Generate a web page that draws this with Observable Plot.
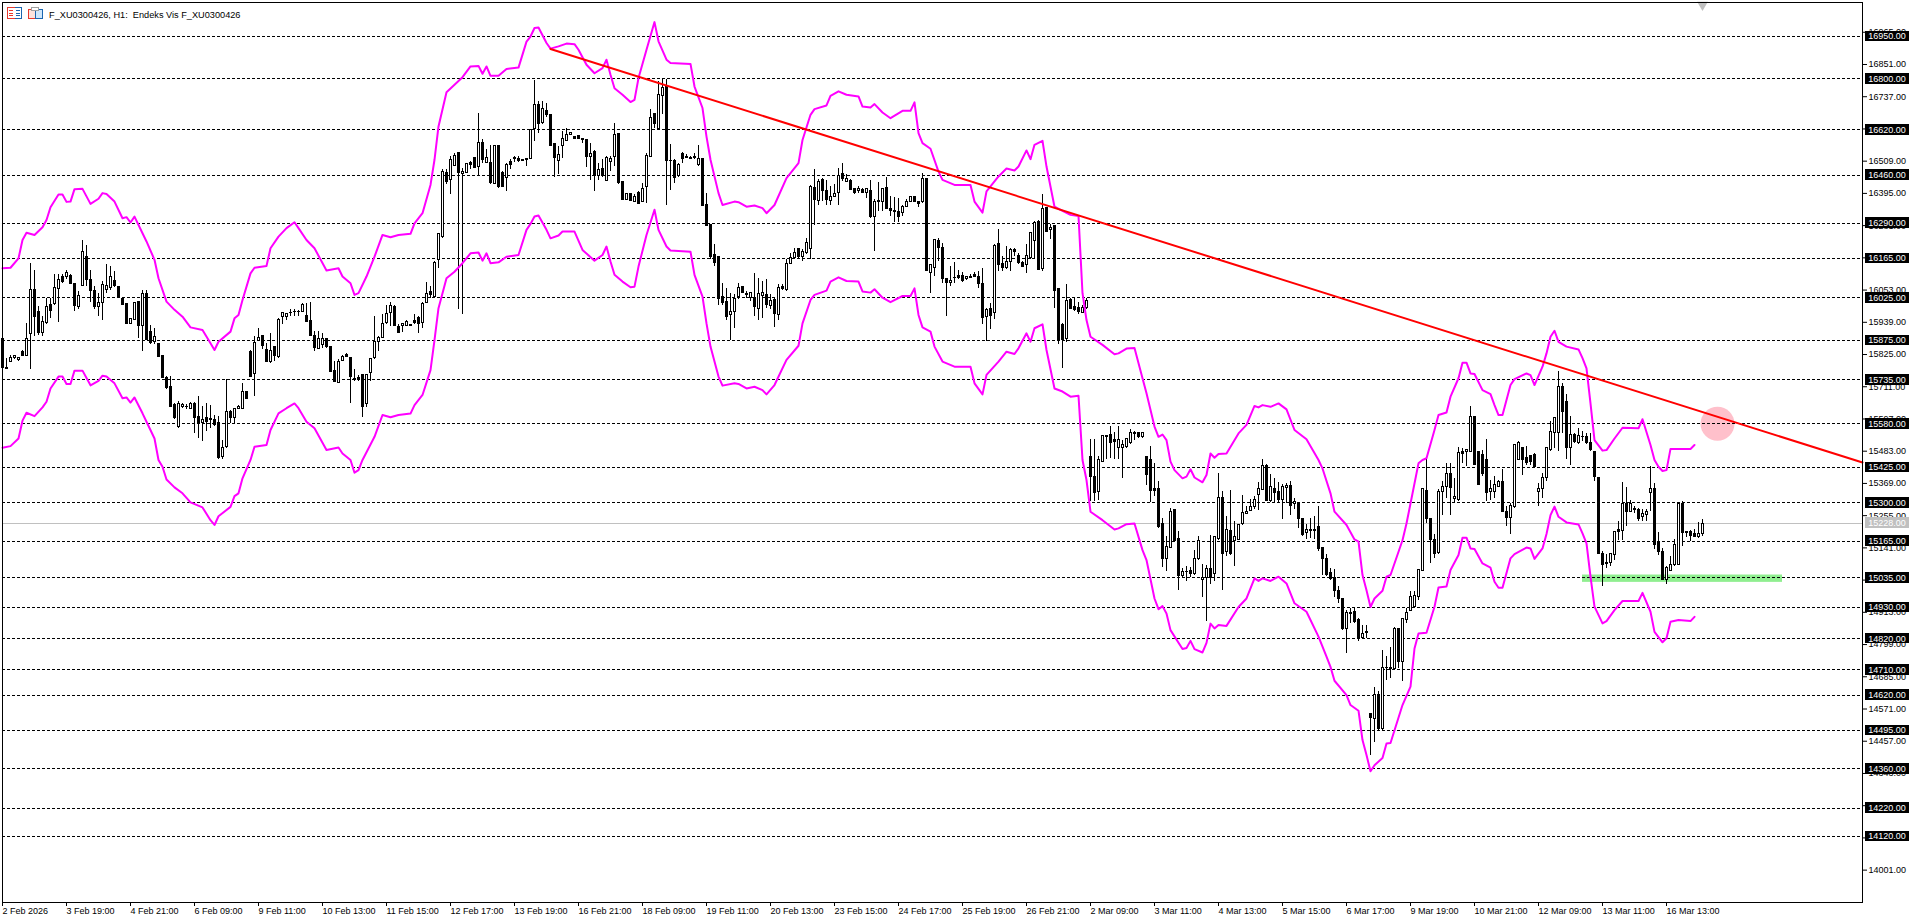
<!DOCTYPE html>
<html><head><meta charset="utf-8">
<script src="https://cdn.jsdelivr.net/npm/d3@7"></script>
<script src="https://cdn.jsdelivr.net/npm/@observablehq/plot@0.6"></script>
<style>
html,body{margin:0;padding:0;background:#fff;overflow:hidden}
#chart{position:absolute;left:0;top:0}
#icons{position:absolute;left:7px;top:7px}
svg text{font-family:"Liberation Sans",sans-serif}
</style></head><body>
<div id="chart"></div>
<svg id="icons" width="37" height="13" viewBox="0 0 37 13" shape-rendering="crispEdges">
<path d="M7.5 .5H.5v11h7" fill="#fff" stroke="#e8392c"/><path d="M7.5 .5h7v11h-7" fill="#fff" stroke="#1a66b0"/>
<path d="M2 3.5h4M2 6h4M2 8.5h4" stroke="#e8392c"/><path d="M9 3.5h4M9 6h4M9 8.5h4" stroke="#1a66b0"/>
<path d="M21.5 2.5h7v9h-7z" fill="#fde2dc" stroke="#e8392c"/>
<path d="M28.5 2.5h7v9h-7z" fill="#cfe6fa" stroke="#1a66b0"/>
<path d="M24.5 .5h7v3h-7z" fill="#fff" stroke="#a0a0a0"/>
</svg>
<script>
const title = "F_XU0300426, H1:\u00a0\u00a0Endeks Vis F_XU0300426";
const dateLabels = ["2 Feb 2026","3 Feb 19:00","4 Feb 21:00","6 Feb 09:00","9 Feb 11:00","10 Feb 13:00","11 Feb 15:00","12 Feb 17:00","13 Feb 19:00","16 Feb 21:00","18 Feb 09:00","19 Feb 11:00","20 Feb 13:00","23 Feb 15:00","24 Feb 17:00","25 Feb 19:00","26 Feb 21:00","2 Mar 09:00","3 Mar 11:00","4 Mar 13:00","5 Mar 15:00","6 Mar 17:00","9 Mar 19:00","10 Mar 21:00","12 Mar 09:00","13 Mar 11:00","16 Mar 13:00"];
const dateTickBars = [0,16,32,48,64,80,96,112,128,144,160,176,192,208,224,240,256,272,288,304,320,336,352,368,384,400,416];
const priceTicks = [16965,16851,16737,16623,16509,16395,16281,16167,16053,15939,15825,15711,15597,15483,15369,15255,15141,15027,14913,14799,14685,14571,14457,14343,14229,14115,14001];
const levels = [16950,16800,16620,16460,16290,16165,16025,15875,15735,15580,15425,15300,15165,15035,14930,14820,14710,14620,14495,14360,14220,14120];
const currentPrice = [15228];

const direction =
"bwwwwbwwbb"+"wwbwwbwbbw"+"wbbbwwwwbb"+"bbwwbwbbwb"+"bbbbwwwwbb"+"wbwbbwwbww"+"wbbwwbbwbw"+"wwbbwwbbbw"+"wbbbwwbbww"+"bwwwwwwwbb"+
"wwbbbwwbww"+"wbwwbwwbbw"+"bwbwbbwbwb"+"bbwwbwbbbw"+"wwwbbbbwbw"+"bwwwbbwbwb"+"wwwbwwbwbw"+"bbbbwbbbbb"+"bbwwwbbwbw"+"wbwbwbwwwb"+
"wwwbwbbwww"+"bwbbwbwbww"+"wbbbbwwwbb"+"wbwwbbbwbb"+"bwwbbbwbwb"+"bwwbbbwwwb"+"wbwbbbwbbb"+"wwbbwwbbbw"+"wwwwbwbbbb"+"bwwbbwbbww"+
"wwbwwbwbww"+"wwwwwwbwbb"+"wwbwbbwbbb"+"bbbbbbwbbb"+"wbbwbwwwwb"+"wwwwwwbbbw"+"wwbwwbwwbb"+"bbwwwbbwww"+"bbbbwwwwww"+"bbwbwbbbbb"+
"bbwwbwbwbb"+"wwwbbbwwww"+"bbbbww";

const bodyTop = [
15879,15776,15812,15820,15814,15835,15879,16053,16053,15977,
15941,15992,16000,16059,16089,16098,16112,16103,16073,16032,
16187,16171,16089,16050,16009,16071,16068,16101,16086,16063,
16020,16003,15950,16006,16010,16038,16038,15906,15888,15861,
15820,15741,15709,15646,15649,15645,15640,15649,15650,15605,
15593,15599,15598,15593,15581,15493,15623,15623,15631,15638,
15691,15691,15835,15867,15882,15891,15841,15837,15850,15947,
15971,15968,15973,15977,15977,16000,15961,15944,15892,15879,
15879,15879,15850,15768,15800,15817,15823,15812,15740,15742,
15752,15752,15808,15868,15882,15933,15968,15997,15994,15924,
15932,15941,15928,15945,15953,16004,16038,16045,16150,16250,
16470,16466,16514,16528,16537,16472,16499,16502,16520,16573,
16573,16520,16502,16563,16563,16466,16496,16505,16521,16516,
16514,16515,16620,16708,16708,16693,16685,16672,16570,16531,
16587,16602,16608,16594,16599,16586,16584,16534,16543,16478,
16481,16520,16517,16602,16606,16436,16392,16392,16384,16398,
16410,16528,16661,16676,16744,16767,16771,16511,16511,16494,
16535,16524,16521,16524,16516,16516,16354,16284,16177,16169,
16027,16012,15974,16022,16059,16063,16040,16042,16024,16039,
16042,16036,16014,16018,16059,16063,16144,16166,16183,16197,
16187,16219,16419,16413,16437,16443,16405,16384,16393,16457,
16463,16445,16440,16410,16411,16407,16410,16403,16364,16367,
16410,16413,16341,16334,16330,16348,16365,16381,16381,16366,
16446,16446,16140,16230,16228,16201,16091,16086,16096,16103,
16103,16098,16101,16105,16101,16075,15983,15985,16210,16215,
16144,16154,16195,16193,16174,16148,16175,16254,16292,16295,
16340,16343,16274,16278,16056,15930,16014,16018,15994,15989,
15989,16016,15461,15393,15452,15537,15537,15540,15522,15522,
15505,15525,15548,15546,15546,15546,15463,15452,15349,15351,
15227,15145,15269,15275,15171,15054,15056,15059,15100,15166,
15036,15065,15065,15178,15316,15316,15204,15200,15180,15222,
15266,15269,15286,15310,15348,15430,15430,15355,15351,15337,
15355,15361,15360,15302,15301,15243,15204,15205,15205,15214,
15139,15100,15051,15033,14989,14959,14909,14910,14913,14886,
14838,14843,14552,14620,14622,14717,14717,14716,14853,14854,
14888,14912,14966,14972,15063,15348,15342,15242,15169,15340,
15355,15401,15401,15320,15478,15481,15487,15605,15605,15479,
15469,15452,15351,15363,15375,15375,15269,15289,15505,15511,
15493,15458,15466,15469,15348,15387,15493,15552,15599,15711,
15711,15658,15540,15540,15537,15535,15534,15511,15481,15389,
15121,15088,15118,15198,15204,15295,15295,15295,15280,15275,
15260,15269,15351,15351,15157,15127,15071,15082,15151,15295,
15295,15196,15198,15190,15190,15227];

const bodyBottom = [
15776,15774,15799,15814,15804,15820,15820,15896,15959,15900,
15902,15935,15980,16003,16056,16083,16098,16073,15998,15994,
16069,16089,16050,15994,15992,16006,16053,16059,16069,16030,
16001,15932,15932,15947,15927,15927,15876,15865,15870,15817,
15741,15705,15640,15599,15567,15640,15638,15631,15599,15581,
15581,15587,15593,15576,15458,15463,15499,15599,15601,15631,
15632,15668,15747,15756,15874,15856,15800,15797,15820,15817,
15959,15959,15971,15974,15974,15977,15940,15892,15847,15843,
15859,15853,15764,15729,15723,15802,15815,15747,15736,15738,
15638,15650,15761,15812,15870,15885,15935,15973,15927,15900,
15927,15927,15926,15938,15933,15935,16006,16036,16030,16160,
16242,16437,16443,16492,16466,16464,16466,16494,16486,16490,
16514,16502,16431,16429,16419,16417,16449,16496,16517,16509,
16511,16512,16516,16622,16640,16643,16673,16564,16520,16511,
16561,16582,16602,16587,16587,16583,16522,16522,16455,16455,
16455,16439,16505,16522,16431,16372,16372,16368,16366,16358,
16366,16416,16525,16641,16622,16738,16508,16508,16449,16455,
16517,16521,16517,16521,16496,16352,16281,16171,16150,16022,
16009,15959,15965,15974,16027,16044,16037,16026,15994,15985,
16033,16000,15997,15968,15965,16056,16053,16145,16166,16169,
16171,16183,16197,16370,16368,16402,16372,16368,16384,16396,
16445,16437,16407,16398,16402,16398,16398,16313,16313,16364,
16364,16339,16334,16330,16313,16325,16348,16365,16366,16358,
16364,16122,16115,16132,16201,16092,16077,16077,16094,16097,
16086,16091,16097,16098,16075,15955,15959,15961,15971,16142,
16132,16130,16154,16187,16148,16136,16142,16168,16225,16124,
16127,16260,16266,16051,15874,15876,15879,15985,15983,15977,
15973,15989,15390,15334,15337,15446,15532,15511,15516,15493,
15493,15499,15511,15544,15532,15532,15399,15343,15343,15216,
15101,15101,15142,15166,15041,15041,15054,15050,15048,15100,
15029,15036,15036,15048,15171,15121,15127,15121,15166,15168,
15227,15260,15271,15286,15328,15345,15308,15308,15336,15312,
15310,15352,15289,15295,15243,15186,15195,15202,15202,15136,
15100,15045,15030,14989,14959,14853,14853,14907,14880,14821,
14823,14841,14538,14534,14499,14502,14715,14713,14711,14738,
14738,14886,14919,14933,14968,15060,15242,15169,15119,15122,
15338,15355,15352,15313,15310,15473,15481,15481,15434,15363,
15404,15334,15340,15340,15357,15269,15245,15245,15286,15452,
15452,15442,15446,15428,15340,15348,15387,15487,15546,15546,
15623,15493,15493,15516,15513,15532,15511,15487,15390,15121,
15080,15083,15086,15115,15196,15201,15269,15269,15275,15242,
15249,15257,15336,15151,15127,15029,15029,15059,15080,15082,
15194,15192,15183,15180,15178,15190];

const wickTop = [
15879,15812,15823,15823,15816,15838,15935,16148,16124,15994,
15959,16024,16024,16107,16107,16107,16124,16107,16077,16048,
16230,16210,16124,16065,16042,16083,16142,16136,16118,16065,
16024,16006,15953,16009,16012,16053,16053,15926,15918,15865,
15823,15747,15747,15650,15658,15650,15647,15655,15655,15676,
15640,15652,15646,15611,15605,15522,15737,15626,15635,15643,
15723,15694,15839,15888,15918,15894,15865,15900,15853,15953,
15973,15971,15983,15985,15980,16006,16006,16009,15906,15906,
15900,15882,15853,15800,15808,15822,15829,15814,15773,15752,
15752,15752,15808,15959,15888,15965,16000,16010,16000,15930,
15935,15944,15931,15965,15959,16009,16081,16065,16154,16252,
16478,16478,16525,16535,16540,16484,16502,16508,16520,16679,
16584,16549,16563,16563,16563,16472,16502,16514,16525,16525,
16516,16516,16622,16793,16720,16720,16714,16675,16573,16561,
16614,16626,16610,16596,16600,16587,16587,16573,16545,16502,
16514,16525,16525,16643,16608,16437,16396,16396,16390,16402,
16431,16537,16693,16679,16791,16797,16799,16567,16514,16502,
16540,16531,16525,16537,16563,16518,16396,16285,16215,16171,
16075,16057,16042,16036,16075,16065,16048,16044,16112,16095,
16083,16089,16036,16022,16071,16071,16160,16181,16201,16201,
16195,16236,16422,16478,16443,16449,16439,16419,16425,16484,
16502,16461,16443,16413,16419,16413,16413,16440,16372,16433,
16413,16451,16384,16380,16378,16351,16372,16384,16384,16367,
16466,16447,16142,16233,16234,16219,16095,16136,16151,16124,
16115,16101,16107,16115,16118,16130,15989,16006,16213,16266,
16171,16207,16201,16201,16183,16154,16213,16258,16295,16298,
16390,16345,16284,16280,16058,15935,16071,16022,16022,16009,
16000,16024,15525,15525,15463,15540,15540,15570,15548,15570,
15522,15528,15558,15552,15548,15548,15466,15499,15440,15375,
15245,15183,15280,15277,15200,15068,15076,15072,15133,15183,
15083,15080,15186,15180,15404,15340,15251,15345,15236,15222,
15328,15286,15312,15322,15371,15452,15437,15399,15387,15371,
15364,15369,15375,15316,15303,15246,15222,15246,15251,15289,
15143,15118,15068,15065,15006,14962,14921,14927,14930,14892,
14868,14866,14553,14647,14632,14779,14756,14789,14858,14856,
14892,14927,14986,14986,15063,15348,15452,15244,15187,15346,
15375,15440,15440,15387,15496,15493,15489,15640,15607,15481,
15487,15525,15381,15393,15378,15419,15286,15298,15505,15517,
15495,15499,15468,15475,15369,15404,15493,15587,15599,15764,
15723,15682,15605,15546,15564,15552,15546,15546,15483,15391,
15127,15118,15121,15200,15233,15373,15355,15310,15286,15280,
15277,15275,15428,15367,15194,15139,15074,15109,15171,15298,
15304,15198,15202,15206,15231,15241];

const wickBottom = [
15773,15773,15796,15806,15802,15818,15817,15773,15888,15894,
15888,15930,15953,16000,15938,16077,16091,16071,15977,15983,
16068,16065,16009,15983,15959,15945,16042,16053,16063,16024,
15998,15930,15930,15945,15882,15835,15874,15859,15859,15815,
15739,15702,15638,15596,15565,15635,15631,15629,15546,15528,
15516,15552,15564,15572,15454,15452,15493,15581,15581,15629,
15629,15665,15745,15676,15870,15841,15798,15794,15800,15812,
15930,15947,15959,15959,15959,15974,15938,15889,15835,15841,
15847,15847,15761,15725,15721,15800,15813,15652,15729,15729,
15603,15638,15729,15808,15835,15882,15930,15924,15924,15898,
15902,15924,15924,15930,15900,15918,16004,16024,16024,16130,
16236,16425,16390,16490,15986,15965,16464,16478,16484,16455,
16502,16502,16425,16425,16413,16416,16402,16478,16504,16505,
16509,16490,16514,16578,16608,16637,16665,16563,16451,16461,
16520,16578,16600,16584,16584,16573,16486,16439,16402,16440,
16452,16437,16472,16490,16425,16370,16370,16366,16364,16354,
16363,16360,16523,16623,16620,16673,16351,16407,16429,16452,
16502,16517,16514,16516,16490,16350,16279,16160,16136,16000,
16000,15945,15876,15918,16018,16042,16024,16012,15959,15945,
15953,15988,15983,15920,15947,16053,16048,16142,16162,16166,
16154,16180,16162,16280,16352,16366,16351,16351,16381,16352,
16437,16433,16405,16390,16396,16396,16378,16305,16189,16331,
16331,16337,16313,16293,16293,16313,16346,16364,16364,16346,
16360,16120,16042,16101,16154,16077,15959,16065,16077,16091,
16079,16086,16095,16096,16059,15930,15870,15912,15950,16118,
16118,16127,16118,16171,16142,16132,16110,16162,16160,16122,
16118,16258,16233,15988,15859,15774,15867,15983,15977,15968,
15971,15985,15304,15304,15310,15443,15452,15458,15452,15452,
15386,15493,15508,15522,15529,15528,15363,15302,15322,15210,
15070,15059,15139,15164,14989,15036,15021,15036,15045,15098,
14964,14879,15013,15021,15168,14989,15112,15115,15074,15166,
15219,15259,15269,15275,15272,15343,15304,15301,15301,15298,
15240,15299,15257,15277,15210,15183,15169,15175,15169,15128,
15045,15039,15025,14966,14945,14848,14768,14874,14874,14809,
14818,14821,14408,14451,14490,14496,14673,14679,14706,14715,
14667,14874,14915,14929,14956,15057,15228,15084,15104,15116,
15257,15316,15257,15299,15304,15440,15428,15478,15432,15360,
15393,15304,15308,15316,15357,15266,15216,15190,15280,15449,
15398,15434,15434,15426,15286,15316,15375,15481,15493,15481,
15544,15452,15434,15511,15507,15516,15508,15481,15375,15119,
15003,15068,15074,15095,15168,15168,15216,15265,15263,15236,
15233,15233,15269,15135,15115,15024,15013,15056,15074,15080,
15145,15178,15162,15178,15175,15183];

const upperBar = [0,2,4,5,6,8,10,11,12,14,15,16,17,18,20,22,24,25,26,28,30,31,32,33,35,36,38,39,41,43,45,47,50,52,53,54,57,58,59,60,62,63,66,67,69,71,73,74,76,78,81,84,85,87,88,89,91,93,95,97,99,102,103,105,107,108,109,111,113,115,117,119,120,121,122,124,126,129,131,132,133,134,136,137,139,141,143,144,146,148,150,151,152,153,155,157,158,159,161,163,164,166,167,172,173,175,176,177,179,180,183,184,186,188,190,191,193,196,199,200,202,203,206,207,209,211,214,215,217,218,220,222,225,227,228,229,230,232,234,235,238,242,243,245,246,249,251,253,254,256,257,258,260,261,263,265,267,269,270,271,272,275,278,279,281,283,285,286,288,289,290,291,292,293,295,296,297,298,300,301,302,303,304,306,309,311,313,314,315,317,319,321,323,326,329,330,332,333,336,338,339,340,341,342,343,345,346,347,350,351,352,354,355,356,358,359,361,362,364,365,366,367,368,370,372,373,374,375,377,378,381,382,383,385,386,387,388,389,391,394,395,396,397,398,400,401,403,405,409,410,412,413,414,415,416,417,418,422,423];
const upperPrice = [16130,16132,16165,16230,16256,16248,16275,16301,16346,16391,16391,16365,16366,16410,16411,16358,16376,16396,16393,16366,16307,16311,16292,16313,16254,16225,16160,16095,16012,15983,15959,15921,15912,15865,15841,15870,15906,15953,15965,16018,16112,16132,16138,16201,16242,16272,16293,16272,16230,16201,16122,16130,16101,16077,16036,16042,16101,16171,16248,16240,16248,16252,16289,16325,16425,16514,16632,16753,16779,16806,16844,16846,16818,16844,16811,16811,16835,16840,16932,16950,16980,16982,16927,16907,16915,16925,16923,16903,16850,16820,16838,16868,16815,16767,16744,16718,16726,16803,16903,17001,16933,16868,16856,16853,16773,16697,16596,16514,16396,16354,16366,16364,16348,16352,16343,16325,16354,16449,16502,16584,16673,16693,16706,16740,16756,16744,16738,16702,16699,16711,16681,16661,16687,16687,16717,16608,16573,16553,16472,16443,16425,16425,16366,16327,16402,16455,16483,16476,16490,16547,16516,16567,16581,16490,16348,16333,16319,16315,16042,15947,15888,15859,15826,15829,15846,15848,15741,15688,15570,15534,15542,15522,15446,15416,15387,15393,15419,15390,15373,15399,15475,15460,15473,15475,15546,15576,15643,15638,15646,15640,15652,15631,15558,15525,15452,15422,15334,15269,15222,15171,15163,15045,14991,14932,14962,14989,15039,15045,15168,15227,15298,15440,15452,15458,15558,15611,15620,15676,15741,15796,15796,15758,15756,15699,15685,15646,15611,15611,15717,15738,15758,15752,15717,15782,15829,15888,15909,15870,15853,15843,15812,15776,15652,15522,15485,15487,15528,15566,15564,15596,15505,15452,15428,15413,15416,15491,15491,15491,15505];
const lowerBar = [0,2,4,5,6,8,10,11,12,14,15,16,17,18,20,22,24,25,26,28,30,31,32,33,35,36,38,39,40,41,43,45,47,50,52,53,54,57,58,59,60,62,63,66,67,69,71,73,74,76,78,81,84,85,87,88,89,90,93,95,97,99,102,103,105,107,108,109,111,113,115,117,119,120,121,122,124,126,129,131,132,133,134,136,137,139,140,143,145,148,150,151,152,153,155,157,158,159,161,163,164,166,167,172,173,175,176,177,179,180,183,184,186,188,190,191,193,196,199,200,202,203,206,207,209,211,214,215,217,218,220,222,225,227,228,229,230,232,233,235,238,242,243,245,246,249,251,253,254,256,257,258,260,261,263,265,267,269,270,271,272,275,278,279,281,283,285,286,288,289,290,291,292,295,296,297,298,300,301,302,303,304,306,309,311,313,314,315,317,319,321,323,326,329,331,332,333,336,337,339,340,341,342,343,345,346,347,350,352,353,354,356,358,359,361,362,364,365,366,367,368,370,372,373,374,375,377,378,381,382,383,385,386,387,388,389,391,394,395,396,397,398,400,401,403,405,409,410,412,413,415,416,417,419,422,423];
const lowerPrice = [15495,15501,15528,15591,15619,15607,15638,15658,15705,15747,15747,15721,15721,15768,15768,15716,15732,15750,15747,15723,15670,15673,15655,15673,15617,15587,15528,15452,15428,15383,15355,15334,15302,15284,15239,15222,15253,15286,15324,15334,15387,15452,15499,15505,15558,15617,15635,15652,15635,15587,15564,15487,15496,15475,15452,15407,15416,15452,15534,15611,15603,15611,15616,15646,15682,15770,15876,15989,16095,16118,16148,16183,16186,16157,16183,16148,16151,16171,16177,16266,16287,16313,16317,16266,16236,16246,16260,16260,16195,16157,16177,16207,16154,16107,16083,16063,16065,16136,16248,16337,16266,16207,16193,16189,16107,16030,15935,15853,15747,15715,15723,15721,15705,15711,15699,15684,15717,15806,15856,15935,16018,16036,16051,16083,16098,16085,16083,16048,16044,16056,16026,16010,16032,16032,16059,15965,15921,15906,15853,15800,15782,15782,15723,15684,15753,15800,15835,15827,15847,15900,15870,15918,15932,15841,15705,15694,15676,15679,15452,15381,15269,15239,15206,15210,15225,15227,15133,15098,14962,14924,14935,14909,14850,14783,14787,14812,14783,14771,14805,14873,14856,14868,14865,14932,14962,15033,15024,15033,15024,15039,15015,14945,14915,14827,14756,14720,14671,14620,14585,14565,14461,14408,14351,14372,14398,14449,14451,14585,14650,14785,14838,14841,14933,15001,15004,15063,15116,15177,15177,15139,15137,15086,15071,15021,15000,15000,15104,15119,15142,15139,15102,15139,15190,15257,15287,15251,15231,15224,15192,15157,15039,14933,14874,14882,14921,14953,14953,14982,14915,14844,14807,14821,14880,14886,14882,14897];

const trendBar = [137,465];
const trendPrice = [16906,15443];
const zoneBars = [395,445];
const zonePrices = [15045,15019];
const highlightBar = [428.75];
const highlightPrice = [15580];
const shiftBar = [425];
const shiftPrice = [17062];

const bars = d3.range(bodyTop.length);
const dateText = new Map(dateTickBars.map((b,i)=>[b,dateLabels[i]]));
const upper = upperBar.map((b,i)=>({b,p:upperPrice[i]}));
const lower = lowerBar.map((b,i)=>({b,p:lowerPrice[i]}));
const labelLeft = 465.75, labelRight = 476.65, labelTextX = 466.45, labelHalf = 19;
const textOpts = {fontFamily:'"Liberation Sans",sans-serif',fontSize:9};

const chart = Plot.plot({
  width:1920,height:923,
  marginLeft:2,marginRight:58,marginTop:2,marginBottom:21,
  style:{background:"#fff",overflow:"visible",fontFamily:'"Liberation Sans",sans-serif',fontSize:"9px"},
  x:{type:"linear",domain:[0,465],axis:null},
  y:{type:"linear",domain:[13886.5,17070.3],axis:null},
  marks:[
    Plot.rect([0],{x1:()=>zoneBars[0],x2:()=>zoneBars[1],y1:()=>zonePrices[0],y2:()=>zonePrices[1],fill:"#90ee90"}),
    Plot.dot(highlightBar,{x:d=>d,y:(d,i)=>highlightPrice[i],r:17,fill:"#ffc0cb"}),
    Plot.ruleY(levels,{stroke:"#000",strokeWidth:1,strokeDasharray:"3,2",shapeRendering:"crispEdges"}),
    Plot.ruleY(currentPrice,{stroke:"#c0c0c0",strokeWidth:1,shapeRendering:"crispEdges"}),
    Plot.ruleX(bars,{x:d=>d,y1:d=>wickTop[d],y2:d=>wickBottom[d],stroke:"#000",strokeWidth:1,shapeRendering:"crispEdges"}),
    Plot.rect(bars,{x1:d=>d-0.25,x2:d=>d+0.25,y1:d=>bodyTop[d],y2:d=>bodyBottom[d],
      fill:d=>direction[d]==="w"?"#fff":"#000",stroke:"#000",strokeWidth:1,shapeRendering:"crispEdges"}),
    Plot.line(upper,{x:"b",y:"p",stroke:"#ff00ff",strokeWidth:2,curve:"linear"}),
    Plot.line(lower,{x:"b",y:"p",stroke:"#ff00ff",strokeWidth:2,curve:"linear"}),
    Plot.line(trendBar.map((b,i)=>({b,p:trendPrice[i]})),{x:"b",y:"p",stroke:"#ff0000",strokeWidth:2}),
    Plot.dot(shiftBar,{x:d=>d,y:(d,i)=>shiftPrice[i],symbol:"triangle",rotate:180,r:4,fill:"#c0c0c0"}),
    Plot.frame({stroke:"#000",strokeWidth:1,shapeRendering:"crispEdges"}),
    Plot.axisY({anchor:"right",ticks:priceTicks,tickFormat:d=>d.toFixed(2),tickSize:4,tickPadding:2,label:null,fontSize:9,stroke:"#000",color:"#000"}),
    Plot.axisX({anchor:"bottom",ticks:dateTickBars,tickFormat:d=>dateText.get(d),tickSize:4,tickPadding:1,textAnchor:"start",label:null,fontSize:9,stroke:"#000",color:"#000"}),
    Plot.rect(levels,{x1:()=>labelLeft,x2:()=>labelRight,y1:d=>d-labelHalf,y2:d=>d+labelHalf,fill:"#000",shapeRendering:"crispEdges"}),
    Plot.text(levels,{x:()=>labelTextX,y:d=>d,text:d=>d.toFixed(2),fill:"#fff",textAnchor:"start",...textOpts}),
    Plot.rect(currentPrice,{x1:()=>labelLeft,x2:()=>labelRight,y1:d=>d-labelHalf,y2:d=>d+labelHalf,fill:"#c0c0c0",shapeRendering:"crispEdges"}),
    Plot.text(currentPrice,{x:()=>labelTextX,y:d=>d,text:d=>d.toFixed(2),fill:"#fff",textAnchor:"start",...textOpts}),
    Plot.text([title],{frameAnchor:"top-left",dx:46.6,dy:8.5,textAnchor:"start",fill:"#000",fontFamily:'"Liberation Sans",sans-serif',fontSize:9.2})
  ]
});
document.getElementById("chart").appendChild(chart);
</script>
</body></html>
